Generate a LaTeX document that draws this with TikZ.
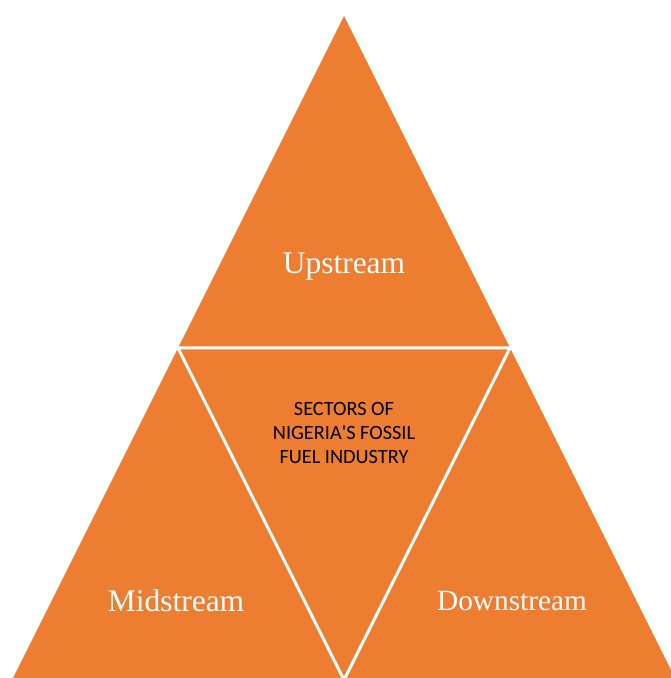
\documentclass[tikz,border=0pt]{standalone}
\usepackage{fontspec}
\setmainfont{Liberation Serif}
\newfontfamily\bodysans{Carlito}
\definecolor{sectororange}{HTML}{ED7D31}
\begin{document}
\begin{tikzpicture}[x=1pt,y=1pt,
  divider/.style={draw=white,line width=3pt,line join=miter},
  sectorlabel/.style={text=white,font=\fontsize{31.5}{36}\selectfont},
  centrelabel/.style={text=black,align=center,font=\bodysans\fontsize{20.3}{24}\selectfont}]
  \useasboundingbox (0,0) rectangle (670,678);
  % corners of the big triangle and the midpoints of its sides
  \coordinate (apex) at (344,662);
  \coordinate (bl) at (12,-2);
  \coordinate (br) at (676,-2);
  \coordinate (ml) at (178,330);
  \coordinate (mr) at (510,330);
  \coordinate (mb) at (344,-2);
  % the big triangle, cut into four sectors by the inverted middle one
  \fill[sectororange] (apex) -- (bl) -- (br) -- cycle;
  \draw[divider] (ml) -- (mr) -- (mb) -- cycle;
  % labels
  \node[sectorlabel] (up) at (344,411) {Upstream};
  \node[sectorlabel] (mid) at (176,77) {Midstream};
  \node[sectorlabel,font=\fontsize{29.3}{34}\selectfont] (down) at (512,77) {Downstream};
  \node[centrelabel] (core) at (344,245) {SECTORS OF\\NIGERIA'S FOSSIL\\FUEL INDUSTRY};
\end{tikzpicture}
\end{document}
